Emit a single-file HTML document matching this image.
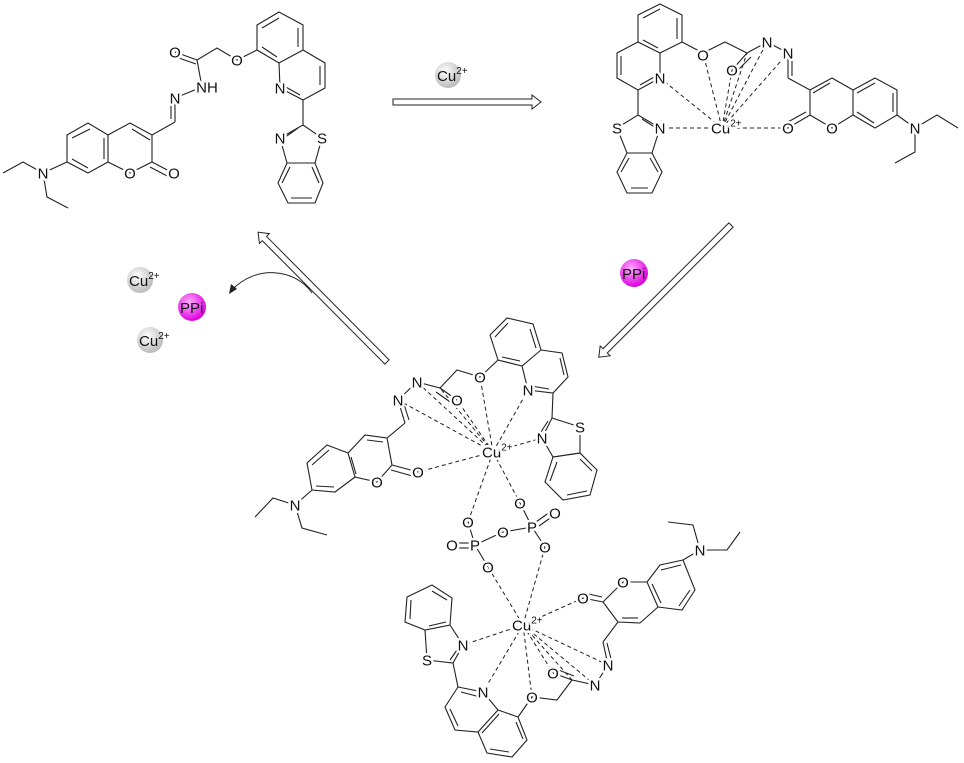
<!DOCTYPE html>
<html><head><meta charset="utf-8"><style>
html,body{margin:0;padding:0;background:#fff;}
svg{display:block;}
.b line,.b polyline,.b polygon{stroke:#222;stroke-width:1.1;fill:none;}
.d line{stroke:#222;stroke-width:1;stroke-dasharray:4,3;fill:none;}
text{font-family:"Liberation Sans",sans-serif;font-size:15px;fill:#111;text-anchor:middle;paint-order:stroke;stroke:#fff;stroke-width:5px;stroke-linejoin:round;}
text.c{text-anchor:start;}
text.n{stroke-width:0;}
.arr{fill:#fff;stroke:#222;stroke-width:1;}
</style></head><body>
<svg width="964" height="763" viewBox="0 0 964 763" xmlns="http://www.w3.org/2000/svg">
<defs>
<radialGradient id="g" cx="40%" cy="35%" r="65%"><stop offset="0" stop-color="#fff"/><stop offset="1" stop-color="#bbb"/></radialGradient>
<radialGradient id="m" cx="40%" cy="35%" r="65%"><stop offset="0" stop-color="#ffb0ff"/><stop offset="1" stop-color="#dd00dd"/></radialGradient>
</defs>

<!-- ===== Top-left molecule ===== -->
<g class="b">
<polygon points="257,25 279,12 303,25 303,50 279,63 257,50"/>
<line x1="262" y1="28" x2="279" y2="18"/><line x1="298" y1="28" x2="298" y2="47"/><line x1="262" y1="47" x2="277" y2="57"/>
<polyline points="303,50 325,63 325,88 303,100 280,88 279,63"/>
<line x1="320" y1="66" x2="320" y2="85"/><line x1="300" y1="95" x2="284" y2="86"/>
<polyline points="257,50 237,60 217,48 197,60 202,87"/>
<line x1="197" y1="60" x2="175" y2="52"/><line x1="196" y1="64" x2="176" y2="57"/>
<line x1="202" y1="87" x2="175" y2="98"/>
<line x1="175" y1="98" x2="175" y2="122"/><line x1="171" y1="101" x2="171" y2="119"/>
<polyline points="175,122 152,135 130,123 108,135 108,162 130,173 152,162 152,135"/>
<line x1="150" y1="140" x2="132" y2="129"/>
<line x1="152" y1="162" x2="173" y2="173"/><line x1="150" y1="167" x2="171" y2="178"/>
<polyline points="108,135 88,123 67,135 67,162 88,173 108,162"/>
<line x1="90" y1="129" x2="72" y2="138"/><line x1="72" y1="159" x2="88" y2="168"/><line x1="104" y1="138" x2="104" y2="159"/>
<polyline points="67,162 43,173 23,162 3,173"/>
<polyline points="43,173 47,197 68,208"/>
<line x1="303" y1="100" x2="303" y2="125"/>
<polygon points="303,125 322,138 315,163 287,163 280,138"/>
<line x1="298" y1="128" x2="284" y2="138"/>
<polygon points="287,163 315,163 323,183 315,203 288,203 278,183"/>
<line x1="291" y1="198" x2="312" y2="198"/><line x1="282" y1="183" x2="290" y2="167"/><line x1="319" y1="183" x2="312" y2="167"/>
</g>

<!-- ===== Top-right molecule ===== -->
<g class="b">
<polygon points="638,15 660,4 682,15 682,42 660,53 638,42"/>
<line x1="643" y1="18" x2="660" y2="9"/><line x1="677" y1="18" x2="677" y2="39"/><line x1="643" y1="40" x2="658" y2="48"/>
<polyline points="638,42 617,53 617,78 638,90 660,78 660,53"/>
<line x1="621" y1="56" x2="621" y2="75"/><line x1="640" y1="85" x2="656" y2="76"/>
<polyline points="682,42 703,53 725,42 747,53 767,42"/>
<line x1="747" y1="53" x2="732" y2="70"/><line x1="751" y1="57" x2="736" y2="72"/>
<line x1="767" y1="42" x2="788" y2="53"/>
<line x1="788" y1="53" x2="788" y2="78"/><line x1="792" y1="56" x2="792" y2="76"/>
<polyline points="788,78 810,90 832,78 853,90 853,115 832,128 810,115 810,90"/>
<line x1="813" y1="93" x2="830" y2="83"/>
<line x1="810" y1="115" x2="788" y2="128"/><line x1="806" y1="112" x2="786" y2="123"/>
<polyline points="853,90 875,78 897,90 897,115 875,128 853,115"/>
<line x1="857" y1="93" x2="875" y2="83"/><line x1="893" y1="93" x2="893" y2="112"/><line x1="857" y1="112" x2="874" y2="123"/>
<polyline points="897,115 915,128 937,115 958,128"/>
<polyline points="915,128 915,152 895,163"/>
<line x1="638" y1="90" x2="638" y2="115"/>
<polygon points="638,115 660,128 652,153 627,153 617,128"/>
<line x1="642" y1="119" x2="656" y2="128"/>
<polygon points="652,153 662,172 652,193 627,193 617,172 627,153"/>
<line x1="631" y1="188" x2="648" y2="188"/><line x1="621" y1="172" x2="629" y2="158"/><line x1="658" y1="172" x2="650" y2="158"/>
</g>
<g class="d">
<line x1="722" y1="128" x2="660" y2="78"/><line x1="722" y1="128" x2="703" y2="53"/><line x1="722" y1="128" x2="732" y2="70"/>
<line x1="722" y1="128" x2="747" y2="53"/><line x1="722" y1="128" x2="767" y2="42"/><line x1="722" y1="128" x2="788" y2="53"/>
<line x1="722" y1="128" x2="788" y2="128"/><line x1="722" y1="128" x2="660" y2="128"/>
</g>

<!-- ===== Middle molecule ===== -->
<g class="b">
<polygon points="498,360 490,335 507,318 533,324 541,350 522,366"/>
<line x1="495" y1="337" x2="508" y2="323"/><line x1="530" y1="329" x2="536" y2="348"/><line x1="502" y1="357" x2="520" y2="361"/>
<polyline points="541,350 562,353 568,377 553,393 528,390 522,366"/>
<line x1="560" y1="358" x2="564" y2="375"/><line x1="549" y1="389" x2="531" y2="386"/>
<polyline points="498,360 480,377 457,370 440,388 417,382 398,400"/>
<line x1="440" y1="388" x2="457" y2="400"/><line x1="436" y1="392" x2="453" y2="404"/>
<line x1="398" y1="400" x2="405" y2="423"/><line x1="402" y1="398" x2="409" y2="420"/>
<polyline points="405,423 387,438 365,435 348,453 355,477 377,482 392,465 387,438"/>
<line x1="383" y1="442" x2="367" y2="440"/>
<line x1="392" y1="465" x2="418" y2="472"/><line x1="391" y1="470" x2="416" y2="477"/>
<polyline points="348,453 327,445 307,463 312,490 335,492 355,477"/>
<line x1="329" y1="450" x2="312" y2="465"/><line x1="316" y1="486" x2="334" y2="487"/><line x1="351" y1="457" x2="356" y2="474"/>
<polyline points="312,490 295,505 273,498 255,517"/>
<polyline points="295,505 302,528 327,535"/>
<line x1="553" y1="393" x2="552" y2="418"/>
<polygon points="552,418 580,427 580,453 553,457 542,438"/>
<line x1="548" y1="421" x2="539" y2="435"/>
<polygon points="553,457 580,453 597,470 590,495 563,500 545,482"/>
<line x1="567" y1="495" x2="587" y2="491"/><line x1="550" y1="481" x2="557" y2="462"/><line x1="592" y1="471" x2="580" y2="459"/>
</g>
<g class="d">
<line x1="493" y1="452" x2="398" y2="400"/><line x1="493" y1="452" x2="417" y2="382"/><line x1="493" y1="452" x2="440" y2="388"/>
<line x1="493" y1="452" x2="457" y2="400"/><line x1="493" y1="452" x2="480" y2="377"/><line x1="493" y1="452" x2="528" y2="390"/>
<line x1="493" y1="452" x2="542" y2="438"/><line x1="493" y1="452" x2="418" y2="472"/>
<line x1="493" y1="452" x2="468" y2="522"/><line x1="493" y1="452" x2="520" y2="503"/>
</g>

<!-- ===== Pyrophosphate ===== -->
<g class="b">
<line x1="468" y1="522" x2="475" y2="545"/><line x1="475" y1="545" x2="488" y2="567"/>
<line x1="475" y1="545" x2="503" y2="532"/><line x1="503" y1="532" x2="532" y2="527"/>
<line x1="458" y1="543" x2="470" y2="543"/><line x1="458" y1="548" x2="470" y2="548"/>
<line x1="532" y1="527" x2="520" y2="503"/><line x1="532" y1="527" x2="545" y2="547"/>
<line x1="536" y1="522" x2="550" y2="512"/><line x1="539" y1="526" x2="553" y2="516"/>
</g>

<!-- ===== Bottom molecule ===== -->
<g class="b">
<polygon points="450,625 452,598 432,585 407,597 405,622 425,630"/>
<line x1="447" y1="600" x2="432" y2="591"/><line x1="411" y1="600" x2="410" y2="619"/><line x1="446" y1="622" x2="429" y2="626"/>
<polyline points="450,625 463,645 453,663 427,660 425,630"/>
<line x1="459" y1="647" x2="450" y2="660"/>
<line x1="453" y1="663" x2="458" y2="687"/>
<polyline points="458,687 483,692 498,710 478,732 455,730 445,707 458,687"/>
<line x1="461" y1="692" x2="480" y2="697"/><line x1="450" y1="709" x2="458" y2="726"/>
<polyline points="498,710 518,717 527,740 512,757 487,753 478,732"/>
<line x1="516" y1="722" x2="523" y2="739"/><line x1="490" y1="749" x2="509" y2="752"/><line x1="482" y1="733" x2="499" y2="714"/>
<polyline points="518,717 532,697 557,700 572,680 595,685 608,665"/>
<line x1="572" y1="680" x2="553" y2="673"/><line x1="574" y1="676" x2="556" y2="669"/>
<line x1="608" y1="665" x2="603" y2="642"/><line x1="612" y1="663" x2="607" y2="643"/>
<polyline points="603,642 618,622 603,602 623,582 647,582 658,607 640,623 618,622"/>
<line x1="622" y1="618" x2="638" y2="618"/>
<line x1="603" y1="602" x2="583" y2="598"/><line x1="602" y1="597" x2="584" y2="593"/>
<polyline points="647,582 660,565 683,560 695,590 682,610 658,607"/>
<line x1="661" y1="570" x2="681" y2="565"/><line x1="690" y1="590" x2="679" y2="606"/><line x1="652" y1="584" x2="661" y2="603"/>
<polyline points="683,560 700,550 693,525 668,522"/>
<polyline points="700,550 727,550 740,532"/>
</g>
<g class="d">
<line x1="523" y1="625" x2="488" y2="567"/><line x1="523" y1="625" x2="545" y2="547"/><line x1="523" y1="625" x2="583" y2="598"/>
<line x1="523" y1="625" x2="608" y2="665"/><line x1="523" y1="625" x2="595" y2="685"/><line x1="523" y1="625" x2="572" y2="680"/>
<line x1="523" y1="625" x2="553" y2="673"/><line x1="523" y1="625" x2="532" y2="697"/><line x1="523" y1="625" x2="483" y2="692"/>
<line x1="523" y1="625" x2="463" y2="645"/>
</g>

<!-- ===== Labels (baseline shifted +5) ===== -->
<g transform="translate(0,5.5)">
<text x="280" y="88">N</text><text x="237" y="60">O</text><text x="175" y="52">O</text>
<text x="207" y="87">NH</text><text x="175" y="98">N</text><text x="130" y="173">O</text><text x="174" y="173">O</text>
<text x="43" y="173">N</text><text x="280" y="138">N</text><text x="322" y="138">S</text>

<text x="660" y="78">N</text><text x="703" y="55">O</text><text x="732" y="70">O</text><text x="767" y="42">N</text><text x="788" y="53">N</text>
<text x="788" y="128">O</text><text x="832" y="128">O</text><text x="915" y="128">N</text><text x="617" y="128">S</text><text x="660" y="128">N</text>
<text class="c" x="711" y="128">Cu<tspan dy="-7" font-size="10">2+</tspan></text>

<text x="528" y="390">N</text><text x="480" y="377">O</text><text x="417" y="382">N</text><text x="457" y="400">O</text><text x="398" y="400">N</text>
<text x="418" y="472">O</text><text x="377" y="482">O</text><text x="295" y="505">N</text><text x="580" y="427">S</text><text x="542" y="438">N</text>
<text class="c" x="482" y="452">Cu<tspan dy="-7" font-size="10">2+</tspan></text>

<text x="468" y="522">O</text><text x="475" y="545">P</text><text x="452" y="545">O</text><text x="488" y="567">O</text>
<text x="503" y="532">O</text><text x="532" y="527">P</text><text x="520" y="503">O</text><text x="555" y="513">O</text><text x="545" y="547">O</text>

<text x="463" y="645">N</text><text x="427" y="660">S</text><text x="483" y="692">N</text><text x="532" y="697">O</text><text x="553" y="673">O</text>
<text x="595" y="685">N</text><text x="608" y="665">N</text><text x="583" y="598">O</text><text x="623" y="582">O</text><text x="700" y="550">N</text>
<text class="c" x="512" y="625">Cu<tspan dy="-7" font-size="10">2+</tspan></text>
</g>

<!-- ===== Arrows ===== -->
<polygon class="arr" transform="translate(393,102)" points="0,-3 139,-3 139,-7 148,0 139,7 139,3 0,3"/>
<polygon class="arr" transform="translate(731,225) rotate(135)" points="0,-3 178,-3 178,-7 187,0 178,7 178,3 0,3"/>
<polygon class="arr" transform="translate(387,362) rotate(-134.8)" points="0,-3 174,-3 174,-7 183,0 174,7 174,3 0,3"/>
<path d="M312,293 C295,268 255,265 232,290" fill="none" stroke="#222" stroke-width="1"/>
<polygon points="229,294 231,284 237,289" fill="#222"/>

<!-- ===== Balls ===== -->
<circle cx="448" cy="75" r="13" fill="url(#g)"/><text class="c n" x="437" y="81">Cu<tspan dy="-7" font-size="10">2+</tspan></text>
<circle cx="140" cy="280" r="13" fill="url(#g)"/><text class="c n" x="129" y="286">Cu<tspan dy="-7" font-size="10">2+</tspan></text>
<circle cx="150" cy="340" r="13" fill="url(#g)"/><text class="c n" x="139" y="346">Cu<tspan dy="-7" font-size="10">2+</tspan></text>
<circle cx="192" cy="307" r="14" fill="url(#m)"/><text class="c n" x="180" y="313">PPi</text>
<circle cx="634" cy="273" r="14" fill="url(#m)"/><text class="c n" x="622" y="279">PPi</text>
</svg>
</body></html>
